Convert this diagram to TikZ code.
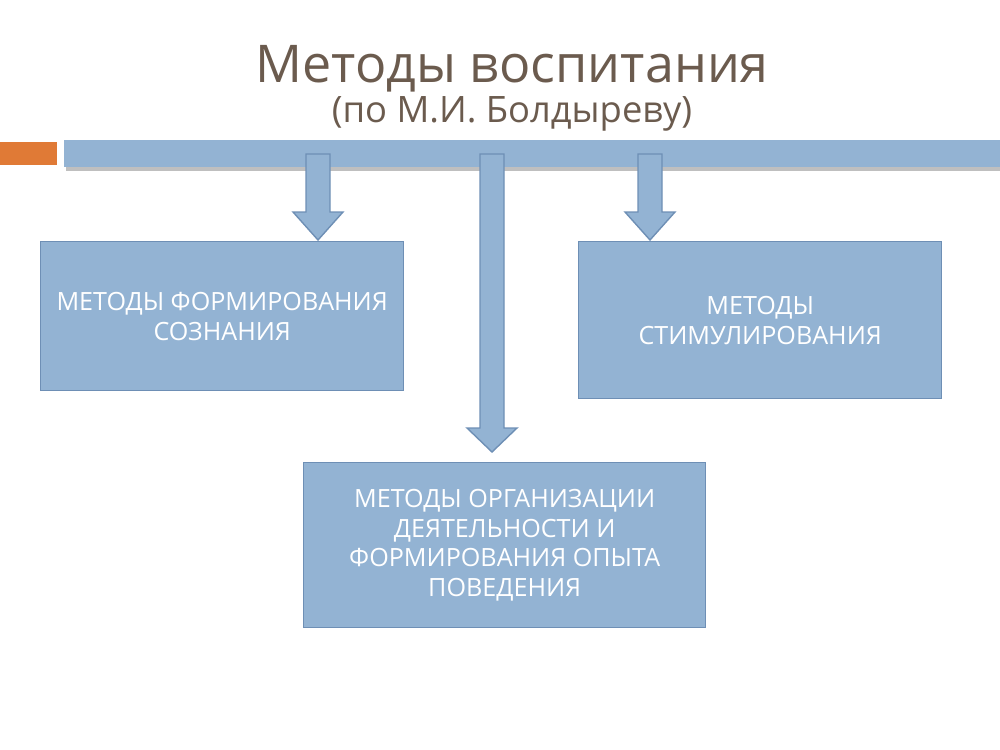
\documentclass[tikz,border=0pt]{standalone}
\usepackage{fontspec}
\setmainfont{Open Sans}
\usetikzlibrary{positioning}
\definecolor{boxfill}{HTML}{93B3D3}
\definecolor{boxline}{HTML}{6E8FB5}
\definecolor{titlecol}{HTML}{6B5B4E}
\definecolor{accent}{HTML}{E07A36}
\tikzset{
  methodbox/.style={draw=boxline, fill=boxfill, line width=0.8pt, align=center,
    text=white, font=\fontsize{14.3}{17}\selectfont, inner sep=0pt},
  blockarrow/.style={draw=boxline, fill=boxfill, line width=0.8pt, line join=miter}
}
\newcommand{\downarrowshape}[4]{% x, top, tip, headtop
  \draw[blockarrow] (#1-12,#2) -- (#1+12,#2) -- (#1+12,#4) -- (#1+25,#4) -- (#1,#3)
    -- (#1-25,#4) -- (#1-12,#4) -- cycle;}
\begin{document}
\begin{tikzpicture}[x=0.02cm, y=-0.02cm]
  \useasboundingbox (0,0) rectangle (1000,750);
  % title
  \node[text=titlecol, font=\fontsize{29.6}{34}\selectfont] (title) at (512,69) {Методы воспитания};
  \node[text=titlecol, font=\fontsize{20.7}{24}\selectfont] (subtitle) at (512,114) {(по М.И. Болдыреву)};
  % header bar
  \fill[black!25] (66,163) rectangle (1000,171);
  \fill[accent] (0,142) rectangle (57,165);
  \fill[boxfill] (64,140) rectangle (1000,167);
  % arrows
  \downarrowshape{318}{154}{240}{212}
  \downarrowshape{492}{154}{452}{428}
  \downarrowshape{650}{154}{240}{212}
  % boxes
  \node[methodbox, minimum width=363*0.02cm, minimum height=149*0.02cm, anchor=north west]
    (forming) at (40,241) {МЕТОДЫ ФОРМИРОВАНИЯ\\СОЗНАНИЯ};
  \node[methodbox, minimum width=363*0.02cm, minimum height=157*0.02cm, anchor=north west]
    (stimul) at (578,241) {МЕТОДЫ\\СТИМУЛИРОВАНИЯ};
  \node[methodbox, minimum width=402*0.02cm, minimum height=165*0.02cm, anchor=north west]
    (organ) at (303,462) {МЕТОДЫ ОРГАНИЗАЦИИ\\ДЕЯТЕЛЬНОСТИ И\\ФОРМИРОВАНИЯ ОПЫТА\\ПОВЕДЕНИЯ};
\end{tikzpicture}
\end{document}
